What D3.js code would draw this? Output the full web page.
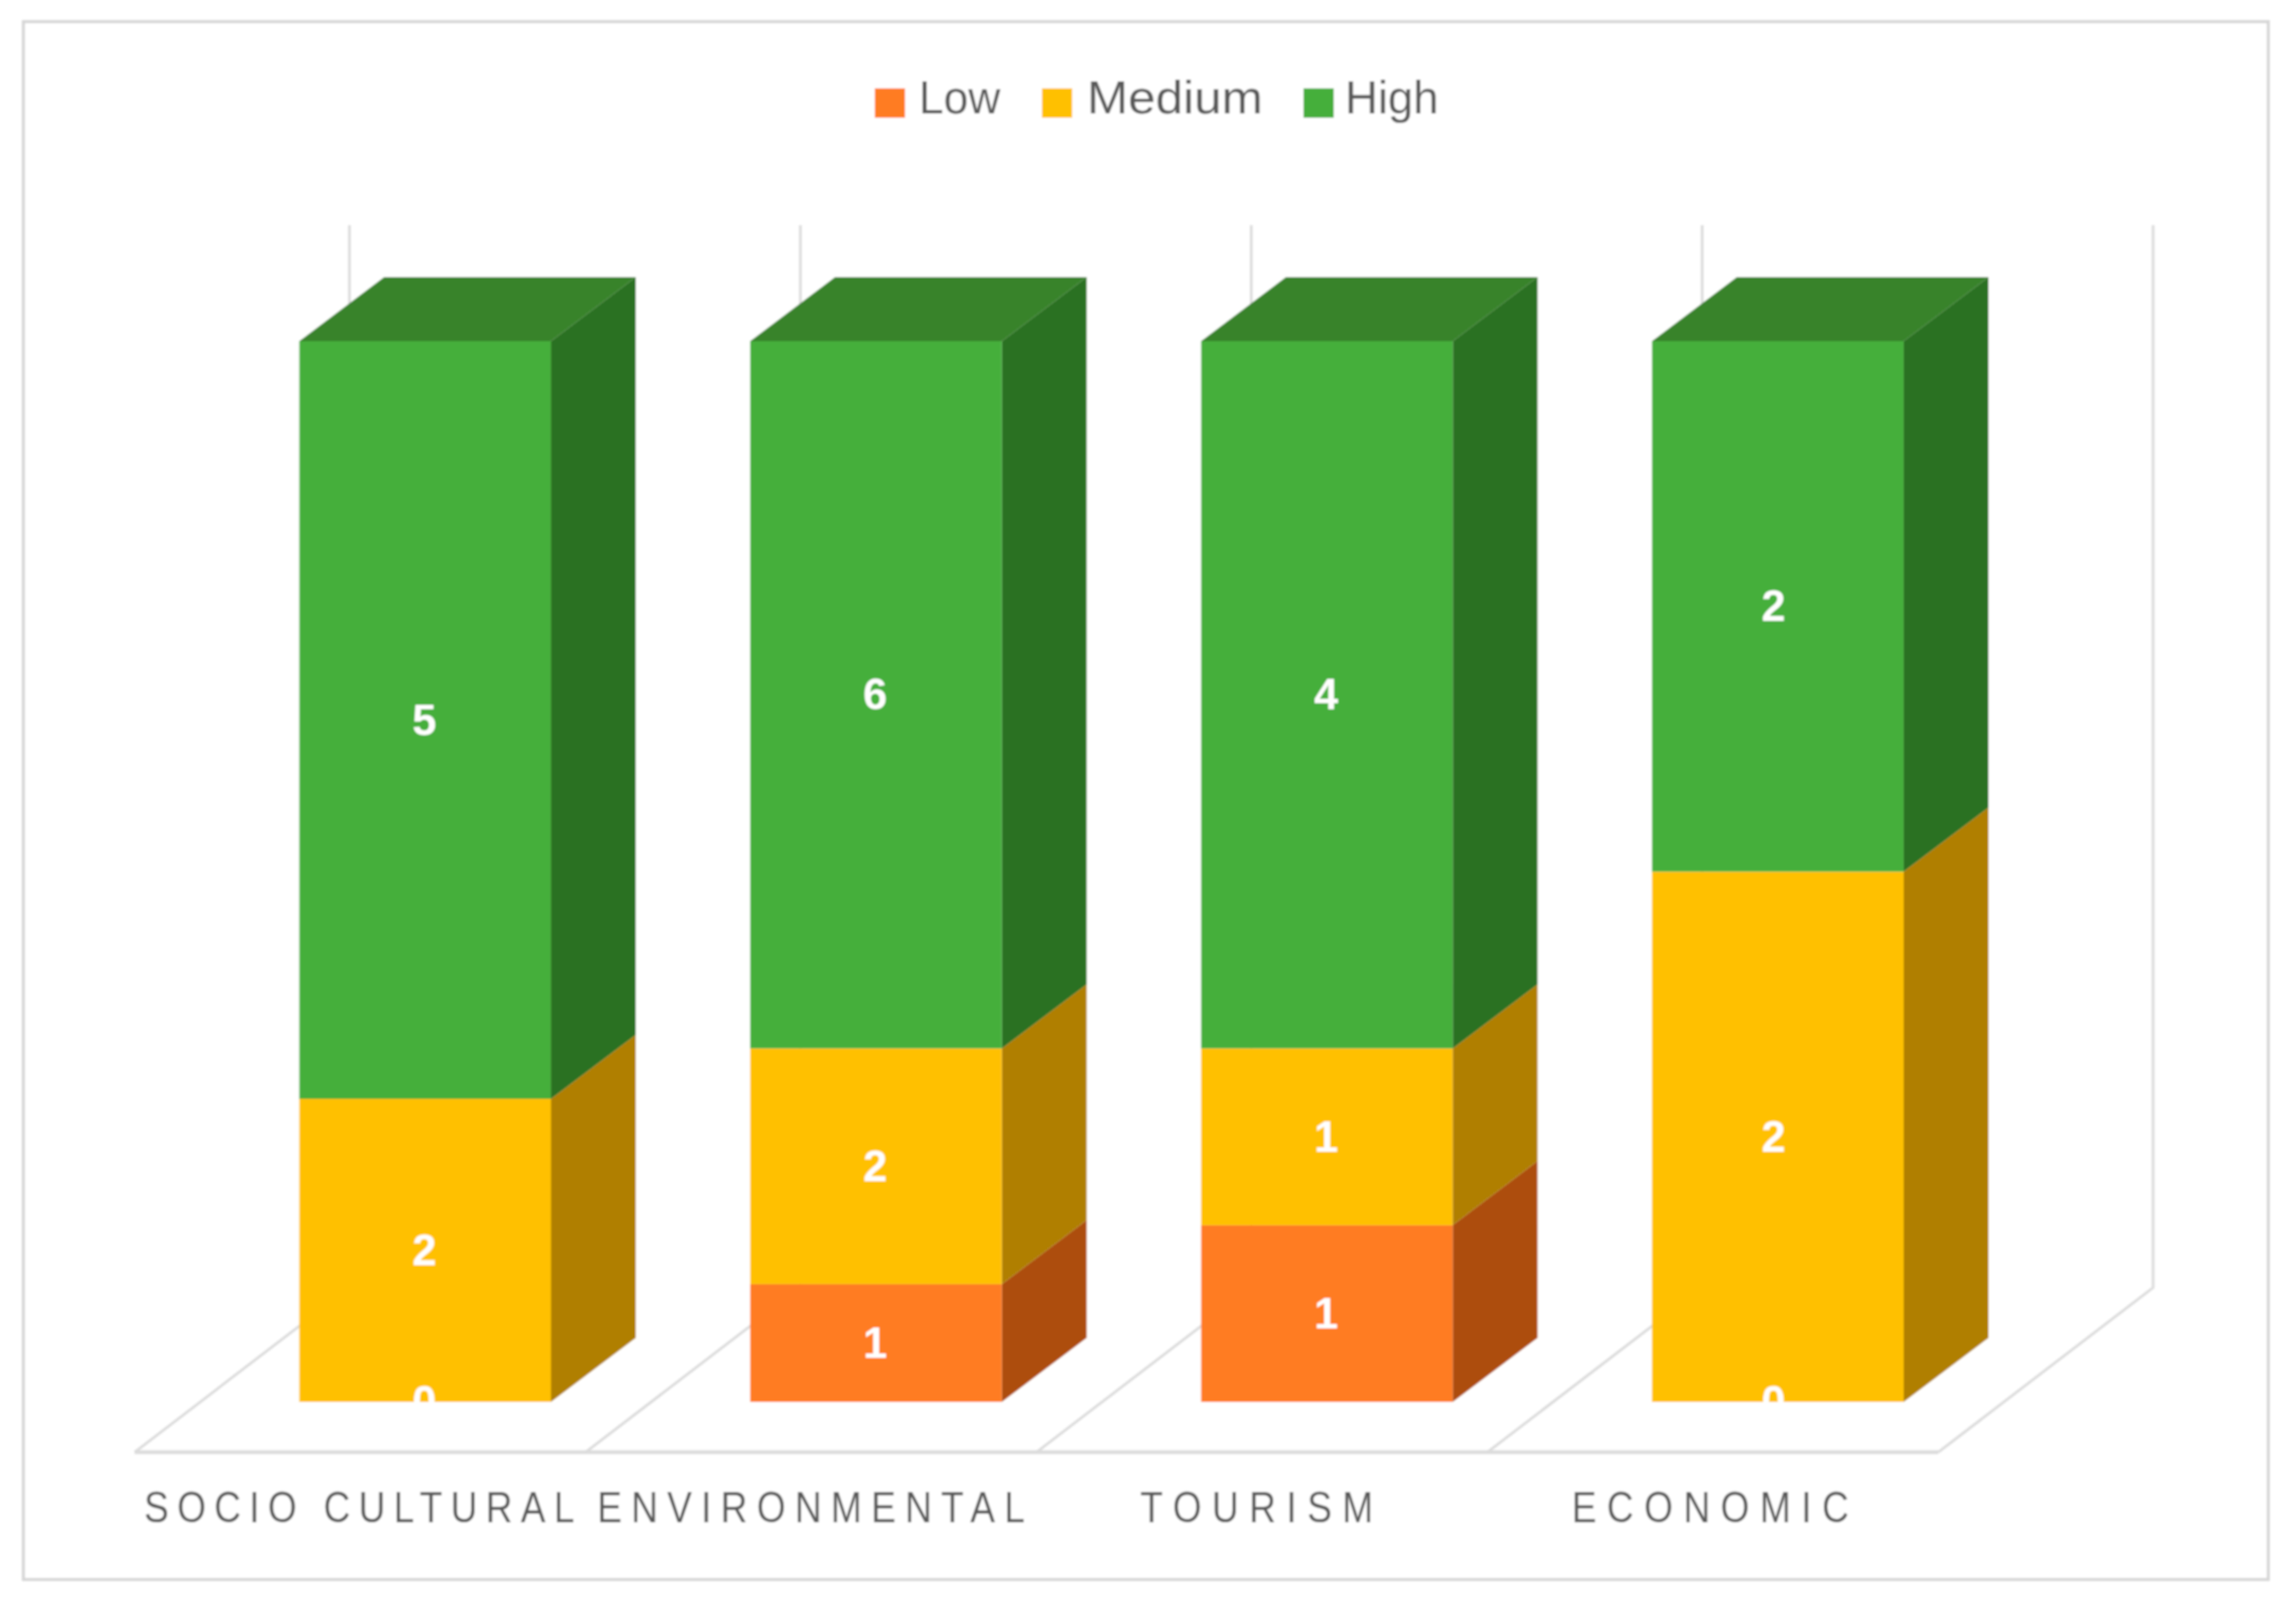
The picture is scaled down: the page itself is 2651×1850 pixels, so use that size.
<!DOCTYPE html>
<html>
<head>
<meta charset="utf-8">
<script src="https://cdnjs.cloudflare.com/ajax/libs/d3/7.8.5/d3.min.js"></script>
<style>
html,body{margin:0;padding:0;background:#fff}
svg{display:block}
text{font-family:"Liberation Sans",Arial,sans-serif}
</style>
</head>
<body>
<svg id="chart" width="2651" height="1850"></svg>
<script>
// Data (drawn as a 100% stacked 3-D column chart)
const categories = ["SOCIO CULTURAL", "ENVIRONMENTAL", "TOURISM", "ECONOMIC"];
const seriesNames = ["Low", "Medium", "High"];
const lowValues = [0, 1, 1, 0];
const mediumValues = [2, 2, 1, 2];
const highValues = [5, 6, 4, 2];

const W = 2651, H = 1850;
const svg = d3.select("#chart").attr("viewBox", [0, 0, W, H]);

const defs = svg.append("defs");
defs.append("filter").attr("id", "soft").attr("x", "-2%").attr("y", "-2%").attr("width", "104%").attr("height", "104%")
  .append("feGaussianBlur").attr("stdDeviation", 1.1);

const root = svg.append("g").attr("filter", "url(#soft)");

// Outer frame
root.append("rect").attr("x", 27).attr("y", 25).attr("width", 2592).attr("height", 1799)
  .attr("fill", "#fff").attr("stroke", "#d6d6d6").attr("stroke-width", 3.5);

// Geometry
const floorLeft = 155.5, floorRight = 2238, floorFront = 1677;
const floorDepth = [248, -190];   // full floor depth on the screen
const barDepth = [98, -74];       // depth of one column
const inset = [(floorDepth[0] - barDepth[0]) / 2, (floorDepth[1] - barDepth[1]) / 2];
const colWidthRatio = 0.558;

const x = d3.scaleBand().domain(categories).range([floorLeft, floorRight]).paddingInner(0).paddingOuter(0);
const y = d3.scaleLinear().domain([0, 1]).range([floorFront + inset[1], 394]);

const color = d3.scaleOrdinal().domain(seriesNames).range(["#ff7c20", "#ffc000", "#45af3a"]);
const sideColor = d3.scaleOrdinal().domain(seriesNames).range(["#ad4e10", "#b07f00", "#2b7120"]);
const topColor = d3.scaleOrdinal().domain(seriesNames).range(["#c05a14", "#c49000", "#38832b"]);

const rows = categories.map((c, i) => ({ category: c, Low: lowValues[i], Medium: mediumValues[i], High: highValues[i] }));
const stacked = d3.stack().keys(seriesNames).offset(d3.stackOffsetExpand)(rows);

// Walls and floor grid
const gridColor = "#dcdcdc";
const grid = root.append("g").attr("fill", "none").attr("stroke", gridColor).attr("stroke-width", 3.2);
const edges = categories.map(c => x(c)).concat([floorRight]);
const wallBottom = floorFront + floorDepth[1];
edges.forEach(e => {
  const bx = e + floorDepth[0];
  grid.append("path").attr("d", d3.line()([[e, floorFront], [bx, wallBottom], [bx, 260]]));
});
grid.append("line").attr("x1", floorLeft).attr("x2", floorRight).attr("y1", floorFront).attr("y2", floorFront).attr("stroke-width", 4.5);

// Columns
const line = d3.line();
const barWidth = x.bandwidth() * colWidthRatio;
const barX = c => x(c) + (x.bandwidth() - barWidth) / 2 + inset[0];

const bars = root.append("g");
categories.forEach((c, i) => {
  const g = bars.append("g").attr("class", "column");
  const xl = barX(c), xr = xl + barWidth;
  stacked.forEach(s => {
    const [v0, v1] = s[i];
    if (v1 <= v0) return;
    const yb = y(v0), yt = y(v1);
    g.append("path").attr("fill", sideColor(s.key))
      .attr("d", line([[xr, yb], [xr + barDepth[0], yb + barDepth[1]], [xr + barDepth[0], yt + barDepth[1]], [xr, yt]]) + "Z");
    g.append("rect").attr("fill", color(s.key))
      .attr("x", xl).attr("y", yt).attr("width", barWidth).attr("height", yb - yt);
  });
  const last = stacked[stacked.length - 1];
  g.append("path").attr("fill", topColor(last.key))
    .attr("d", line([[xl, y(1)], [xl + barDepth[0], y(1) + barDepth[1]], [xr + barDepth[0], y(1) + barDepth[1]], [xr, y(1)]]) + "Z");
});

// Value labels
const labelNudge = [-1, -1, -1, -5];
const labels = root.append("g").attr("fill", "#fff").attr("font-size", 50).attr("font-weight", 700).attr("text-anchor", "middle");
stacked.forEach(s => {
  categories.forEach((c, i) => {
    const [v0, v1] = s[i];
    labels.append("text")
      .attr("x", barX(c) + barWidth / 2 + labelNudge[i])
      .attr("y", y((v0 + v1) / 2) + 17)
      .text(s.key === "Low" ? lowValues[i] : s.key === "Medium" ? mediumValues[i] : highValues[i]);
  });
});

// Category axis
const labelWidths = [497, 494, 269, 320];
const labelShift = [-1, 0, -6, -3];
const glyphSqueeze = 0.86;
const axisG = root.append("g").attr("transform", `translate(0,${1758 - 36})`)
  .call(d3.axisBottom(x).tickSize(0).tickPadding(0));
axisG.select(".domain").remove();
axisG.selectAll(".tick").each(function (d, i) {
  const t = d3.select(this);
  t.attr("transform", `translate(${x(d) + x.bandwidth() / 2 + labelShift[i]},0)`);
  t.select("text")
    .attr("font-size", 50)
    .attr("fill", "#595959")
    .attr("font-family", '"Liberation Sans",Arial,sans-serif')
    .attr("dy", 0).attr("y", 36)
    .attr("transform", `scale(${glyphSqueeze},1)`)
    .attr("lengthAdjust", "spacing")
    .attr("textLength", labelWidths[i] / glyphSqueeze);
});

// Legend
const legendItems = [
  { swatch: 1010, text: 1061, width: 94 },
  { swatch: 1203, text: 1255, width: 203 },
  { swatch: 1505, text: 1553, width: 108 }
];
const legend = root.append("g");
seriesNames.forEach((name, i) => {
  const it = legendItems[i];
  legend.append("rect").attr("x", it.swatch).attr("y", 102).attr("width", 35).attr("height", 34).attr("fill", color(name));
  legend.append("text").attr("x", it.text).attr("y", 131).attr("font-size", 54).attr("fill", "#595959")
    .attr("textLength", it.width).attr("lengthAdjust", "spacingAndGlyphs").text(name);
});
</script>
</body>
</html>
